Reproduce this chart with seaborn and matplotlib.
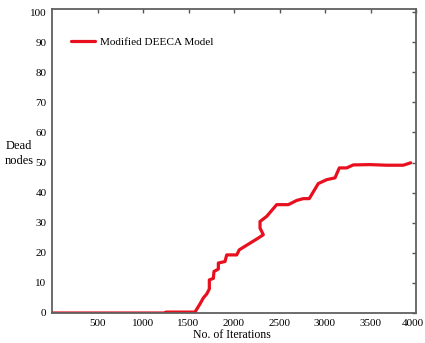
import matplotlib
matplotlib.use("Agg")
import matplotlib.pyplot as plt
import matplotlib.transforms as mtransforms
import seaborn as sns
import pandas as pd

iterations = [0, 1253, 1253, 1571, 1626, 1663, 1700, 1729, 1729, 1773, 1780, 1828, 1828,
              1901, 1920, 2030, 2058, 2267, 2322, 2286, 2286, 2359, 2469, 2597, 2689,
              2762, 2827, 2926, 3019, 3110, 3157, 3238, 3311, 3495, 3678, 3860, 3942]
dead_nodes = [0, 0, 0.3, 0.3, 3, 5, 6.3, 8, 11, 11.5, 13.8, 14.6, 16.6,
              17.1, 19.3, 19.3, 21, 24.9, 26, 28.2, 30.4, 32.1, 36, 36, 37.4,
              38, 38, 43, 44.3, 44.9, 48.2, 48.2, 49.2, 49.3, 49.1, 49.1, 49.9]
series_name = "Modified DEECA Model"
x_ticks = [500, 1000, 1500, 2000, 2500, 3000, 3500, 4000]
y_ticks = [0, 10, 20, 30, 40, 50, 60, 70, 80, 90, 100]

sns.set_theme(style="white")
plt.rcParams["font.family"] = ["Liberation Serif", "DejaVu Serif"]

df = pd.DataFrame({"iter": iterations, "dead": dead_nodes})

fig = plt.figure(figsize=(4.25, 3.43), dpi=100)
ax = fig.add_axes([52 / 425, 1 - 313 / 343, 364 / 425, 304 / 343])
sns.lineplot(data=df, x="iter", y="dead", sort=False, estimator=None,
             color="#e8101e", linewidth=2.3, ax=ax, label=series_name)

ax.set_xlim(0, 4000)
ax.set_ylim(0, 101)
ax.set_xticks(x_ticks)
ax.set_yticks(y_ticks)
ax.tick_params(direction="in", length=3, width=1, colors="#555555",
               labelcolor="black", labelsize=8, top=True, right=True,
               labeltop=False, labelright=False, pad=4)
for s in ax.spines.values():
    s.set_color("#606060")
    s.set_linewidth(1.3)

# nudge the last x tick label so it stays inside the canvas
last = ax.get_xticklabels()[-1]
last.set_transform(last.get_transform() +
                   mtransforms.ScaledTranslation(-3 / 100, 0, fig.dpi_scale_trans))

ax.set_xlabel("No. of Iterations", fontsize=8.5, color="black", va="center")
ax.xaxis.set_label_coords(0.495, -0.073)
ax.set_ylabel("Dead\nnodes", fontsize=9, color="black", rotation=0,
              ha="center", va="center", linespacing=1.4)
ax.yaxis.set_label_coords(-0.09, 0.525)

leg = ax.legend(loc="center left", bbox_to_anchor=(0.025, 0.89), frameon=False,
                fontsize=8.1, handlelength=2.1, handletextpad=0.5)
for t in leg.get_texts():
    t.set_color("black")

fig.savefig("out.png", dpi=100)
